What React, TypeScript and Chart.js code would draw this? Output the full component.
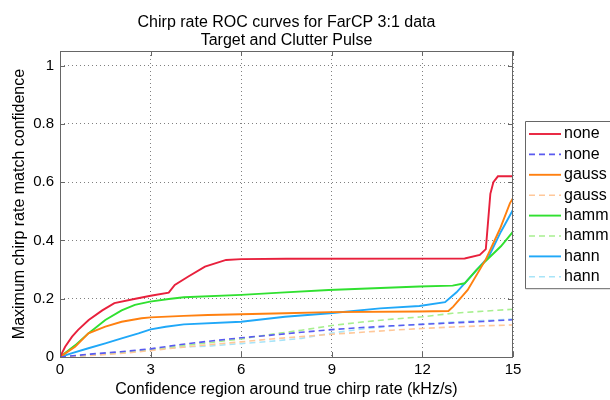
import React, { useEffect, useRef } from "react";
import { Chart, registerables } from "chart.js";

Chart.register(...registerables);

const FONT = "'Liberation Sans', Arial, Helvetica, sans-serif";

const titleLines = ["Chirp rate ROC curves for FarCP 3:1 data", "Target and Clutter Pulse"];
const xAxisTitle = "Confidence region around true chirp rate (kHz/s)";
const yAxisTitle = "Maximum chirp rate match confidence";
const xTicks = [0, 3, 6, 9, 12, 15];
const yTicks = [0, 0.2, 0.4, 0.6, 0.8, 1];

// Solid curves: target pulse, one per window
const noneX = [0, 0.17, 0.4, 0.6, 0.95, 1.4, 1.8, 2.5, 3.0, 3.6, 3.8, 4.25, 4.8, 5.5, 6.0, 7.5, 13.4, 13.9, 14.1, 14.25, 14.35, 14.5, 15];
const noneY = [0, 0.035, 0.07, 0.093, 0.127, 0.16, 0.185, 0.2, 0.21, 0.221, 0.247, 0.276, 0.31, 0.333, 0.336, 0.337, 0.338, 0.35, 0.37, 0.56, 0.6, 0.62, 0.62];

const gaussX = [0, 0.5, 0.94, 1.5, 2.04, 2.7, 3.0, 4.1, 4.9, 7.45, 8.94, 11.9, 12.86, 13.02, 13.5, 14.1, 14.57, 14.9, 15];
const gaussY = [0, 0.035, 0.081, 0.104, 0.121, 0.133, 0.136, 0.141, 0.144, 0.15, 0.154, 0.156, 0.158, 0.173, 0.23, 0.335, 0.44, 0.528, 0.545];

const hammX = [0, 0.5, 0.94, 1.5, 2.04, 2.48, 2.98, 3.6, 4.1, 6.0, 7.3, 8.9, 11.9, 13.0, 13.4, 13.8, 14.25, 14.6, 15];
const hammY = [0, 0.04, 0.081, 0.127, 0.16, 0.179, 0.19, 0.199, 0.205, 0.213, 0.221, 0.23, 0.242, 0.245, 0.253, 0.3, 0.345, 0.38, 0.43];

const hannX = [0, 0.4, 0.94, 1.5, 2.04, 2.6, 3.0, 3.5, 4.1, 6.0, 7.45, 8.94, 10.6, 11.9, 12.75, 13.13, 13.6, 14.2, 14.6, 15];
const hannY = [0, 0.013, 0.03, 0.047, 0.064, 0.081, 0.095, 0.104, 0.112, 0.121, 0.138, 0.15, 0.167, 0.175, 0.188, 0.222, 0.276, 0.345, 0.43, 0.505];

// Dashed curves: clutter pulse, sampled once per kHz/s
const dashedX = [0, 1, 2, 3, 4, 5, 6, 7, 8, 9, 10, 11, 12, 13, 14, 15];
const noneDashedY = [0, 0.01, 0.018, 0.028, 0.043, 0.055, 0.066, 0.075, 0.085, 0.094, 0.101, 0.107, 0.112, 0.117, 0.122, 0.128];
const gaussDashedY = [0, 0.005, 0.012, 0.022, 0.033, 0.043, 0.052, 0.062, 0.07, 0.078, 0.085, 0.092, 0.098, 0.103, 0.107, 0.11];
const hammDashedY = [0, 0.007, 0.014, 0.024, 0.038, 0.05, 0.062, 0.078, 0.092, 0.108, 0.12, 0.13, 0.138, 0.15, 0.157, 0.164];
const hannDashedY = [0, 0.006, 0.016, 0.026, 0.034, 0.038, 0.046, 0.054, 0.064, 0.082, 0.096, 0.106, 0.113, 0.12, 0.125, 0.13];

const pts = (xs: number[], ys: number[]) => xs.map((x, i) => ({ x, y: ys[i] }));

const series = [
  { label: "none", data: pts(noneX, noneY), color: "#e8203c", dashed: false },
  { label: "none", data: pts(dashedX, noneDashedY), color: "#5a5af0", dashed: true },
  { label: "gauss", data: pts(gaussX, gaussY), color: "#ff8010", dashed: false },
  { label: "gauss", data: pts(dashedX, gaussDashedY), color: "#ffc89a", dashed: true },
  { label: "hamm", data: pts(hammX, hammY), color: "#30e030", dashed: false },
  { label: "hamm", data: pts(dashedX, hammDashedY), color: "#a8f090", dashed: true },
  { label: "hann", data: pts(hannX, hannY), color: "#20a8f8", dashed: false },
  { label: "hann", data: pts(dashedX, hannDashedY), color: "#a8e4f8", dashed: true },
];

const AXIS_COLOR = "#666666";

// Box around the axes, inward tick marks, two-line title and the legend box
const decorPlugin = {
  id: "decor",
  afterDatasetsDraw(chart: any) {
    const { ctx, chartArea: a, scales } = chart;
    ctx.save();
    ctx.strokeStyle = AXIS_COLOR;
    ctx.lineWidth = 1;
    ctx.setLineDash([]);
    ctx.strokeRect(a.left + 0.5, a.top + 0.5, a.right - a.left - 1, a.bottom - a.top);
    ctx.beginPath();
    for (const v of xTicks) {
      const px = Math.round(scales.x.getPixelForValue(v)) + 0.5;
      ctx.moveTo(px, a.bottom);
      ctx.lineTo(px, a.bottom - 5);
      ctx.moveTo(px, a.top);
      ctx.lineTo(px, a.top + 5);
    }
    for (const v of yTicks) {
      const py = Math.round(scales.y.getPixelForValue(v)) + 0.5;
      ctx.moveTo(a.left, py);
      ctx.lineTo(a.left + 5, py);
      ctx.moveTo(a.right, py);
      ctx.lineTo(a.right - 5, py);
    }
    ctx.stroke();
    ctx.restore();
  },
  afterDraw(chart: any) {
    const { ctx, chartArea: a } = chart;
    ctx.save();
    // title
    ctx.fillStyle = "#000";
    ctx.font = `16px ${FONT}`;
    ctx.textAlign = "center";
    ctx.textBaseline = "alphabetic";
    const cx = (a.left + a.right) / 2;
    ctx.fillText(titleLines[0], cx, 27);
    ctx.fillText(titleLines[1], cx, 45);

    // legend, running off the right edge of the figure
    const lx = a.right + 12;
    const ly = 121;
    const rowH = 20.4;
    const n = chart.data.datasets.length;
    const boxH = rowH * n + 4;
    ctx.fillStyle = "#fff";
    ctx.fillRect(lx, ly, 200, boxH);
    ctx.strokeStyle = AXIS_COLOR;
    ctx.lineWidth = 1;
    ctx.beginPath();
    ctx.moveTo(lx + 300, ly + 0.5);
    ctx.lineTo(lx + 0.5, ly + 0.5);
    ctx.lineTo(lx + 0.5, ly + boxH + 0.5);
    ctx.lineTo(lx + 300, ly + boxH + 0.5);
    ctx.stroke();
    ctx.textAlign = "left";
    ctx.textBaseline = "middle";
    ctx.font = `16px ${FONT}`;
    chart.data.datasets.forEach((ds: any, i: number) => {
      const y = ly + 13 + i * rowH;
      ctx.strokeStyle = ds.borderColor;
      ctx.lineWidth = ds.borderWidth;
      ctx.setLineDash(ds.borderDash || []);
      ctx.beginPath();
      ctx.moveTo(lx + 4, y);
      ctx.lineTo(lx + 36, y);
      ctx.stroke();
      ctx.setLineDash([]);
      ctx.fillStyle = "#000";
      ctx.fillText(ds.label, lx + 39, y);
    });
    ctx.restore();
  },
};

export default function App() {
  const canvasRef = useRef<HTMLCanvasElement | null>(null);

  useEffect(() => {
    document.body.style.margin = "0";
    document.body.style.overflow = "hidden";
    const canvas = canvasRef.current;
    if (!canvas) return;

    const chart = new Chart(canvas, {
      type: "line",
      data: {
        datasets: series.map((s) => ({
          label: s.label,
          data: s.data,
          borderColor: s.color,
          backgroundColor: s.color,
          borderWidth: s.dashed ? 1.6 : 1.9,
          borderDash: s.dashed ? [6, 4] : [],
          pointRadius: 0,
          tension: 0,
          fill: false,
        })),
      },
      options: {
        responsive: false,
        animation: false,
        devicePixelRatio: 1,
        layout: { padding: { top: 51, right: 97, left: 0, bottom: 0 } },
        plugins: {
          legend: { display: false },
          title: { display: false },
          tooltip: { enabled: false },
        },
        scales: {
          x: {
            type: "linear",
            min: 0,
            max: 15,
            afterBuildTicks: (scale: any) => {
              scale.ticks = xTicks.map((v) => ({ value: v }));
            },
            afterFit: (scale: any) => {
              scale.height = 43;
            },
            ticks: {
              color: "#000",
              font: { family: FONT, size: 15 },
              padding: 4,
              maxRotation: 0,
              callback: (v: any) => String(Number(v)),
            },
            grid: { color: "#808080", lineWidth: 1, drawTicks: false },
            border: { display: false, dash: [1, 3] },
            title: {
              display: true,
              text: xAxisTitle,
              color: "#000",
              font: { family: FONT, size: 16 },
              padding: { top: 0, bottom: 1 },
            },
          },
          y: {
            type: "linear",
            min: 0,
            max: 1.05,
            afterBuildTicks: (scale: any) => {
              scale.ticks = yTicks.map((v) => ({ value: v }));
            },
            afterFit: (scale: any) => {
              scale.width = 60;
            },
            ticks: {
              color: "#000",
              font: { family: FONT, size: 15 },
              padding: 6,
              callback: (v: any) => String(Number(Number(v).toFixed(1))),
            },
            grid: { color: "#808080", lineWidth: 1, drawTicks: false },
            border: { display: false, dash: [1, 3] },
            title: {
              display: true,
              text: yAxisTitle,
              color: "#000",
              font: { family: FONT, size: 16 },
              padding: { top: 10, bottom: 0 },
            },
          },
        },
      },
      plugins: [decorPlugin],
    });

    return () => chart.destroy();
  }, []);

  return (
    <canvas
      ref={canvasRef}
      width={610}
      height={400}
      style={{ display: "block", width: 610, height: 400 }}
    />
  );
}
